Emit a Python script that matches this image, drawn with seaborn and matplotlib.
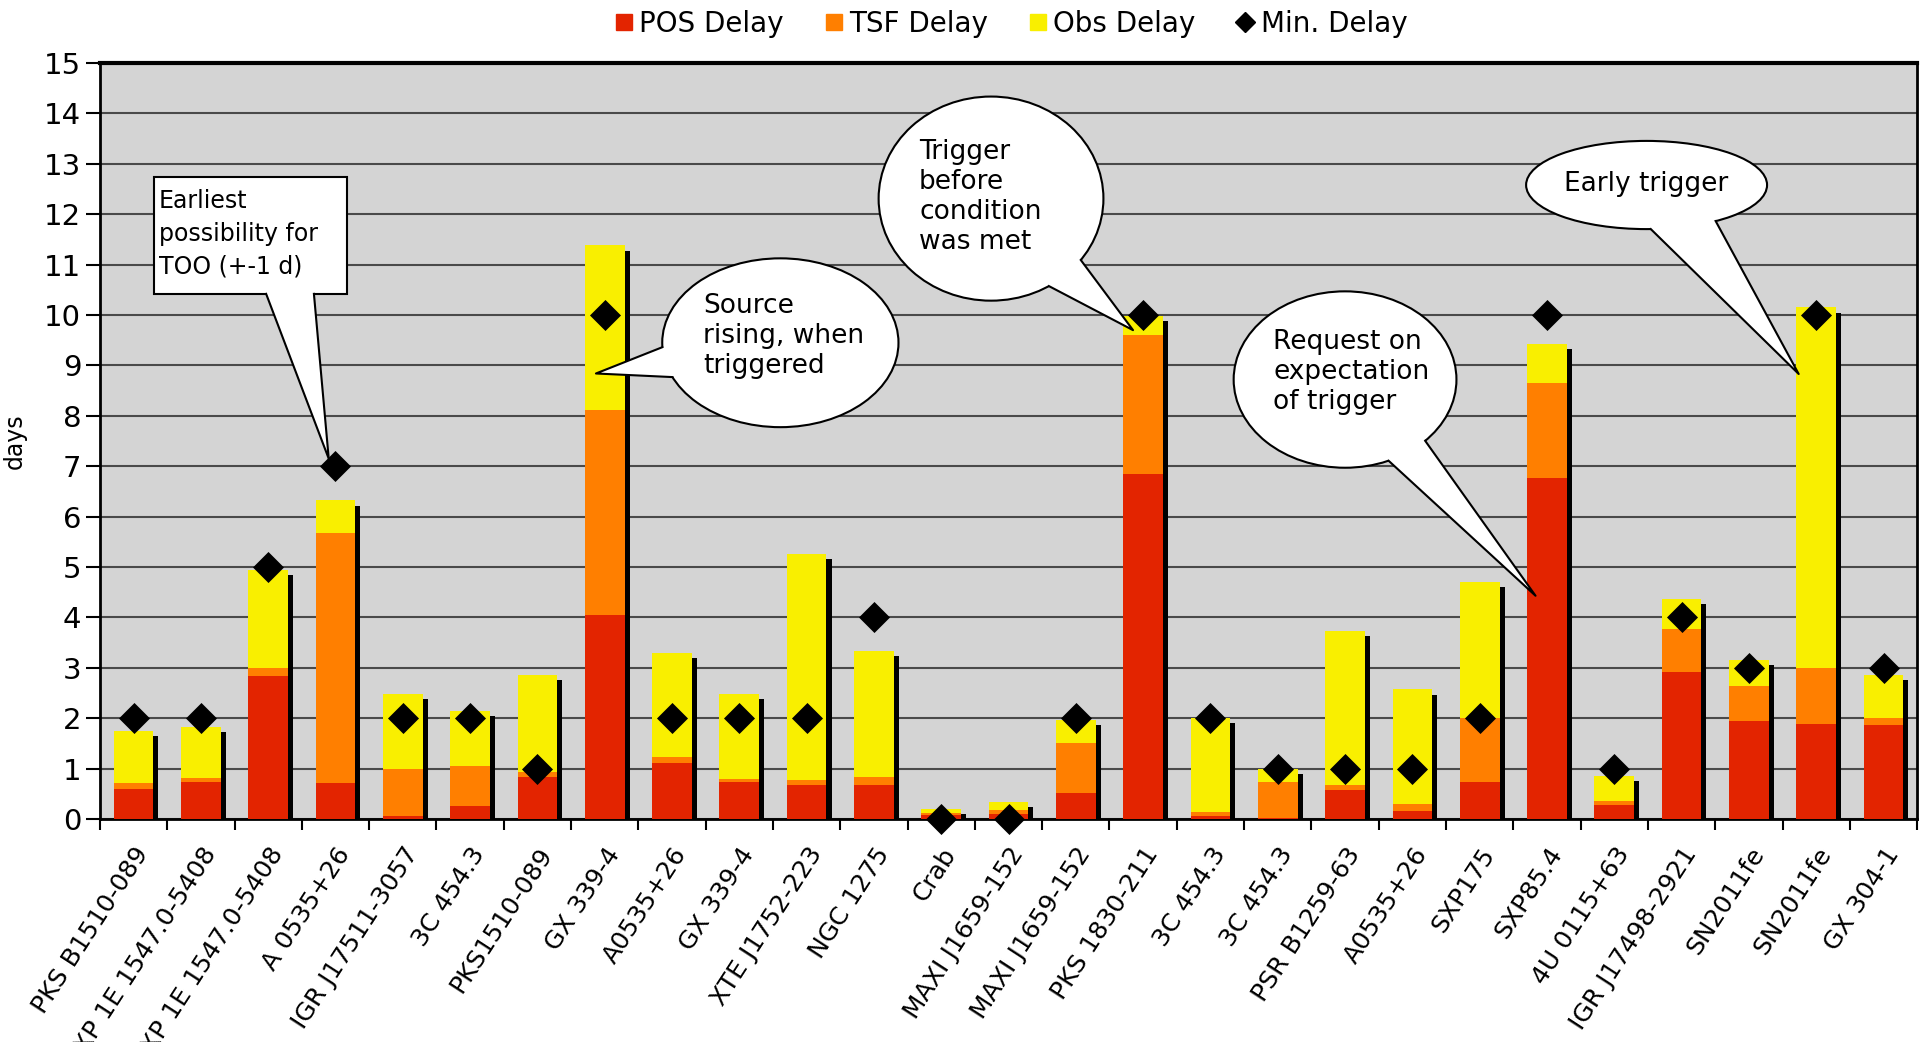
import numpy as np
import pandas as pd
import matplotlib
matplotlib.use("Agg")
import matplotlib.pyplot as plt
import matplotlib.transforms as mtransforms
import seaborn as sns
from matplotlib.patches import Ellipse, Rectangle, Polygon
from matplotlib.lines import Line2D

# source names in the order of the triggers
sources = ["PKS B1510-089", "AXP 1E 1547.0-5408", "AXP 1E 1547.0-5408", "A 0535+26",
           "IGR J17511-3057", "3C 454.3", "PKS1510-089", "GX 339-4", "A0535+26",
           "GX 339-4", "XTE J1752-223", "NGC 1275", "Crab", "MAXI J1659-152",
           "MAXI J1659-152", "PKS 1830-211", "3C 454.3", "3C 454.3", "PSR B1259-63",
           "A0535+26", "SXP175", "SXP85.4", "4U 0115+63", "IGR J17498-2921",
           "SN2011fe", "SN2011fe", "GX 304-1"]

# delays in days
pos_delay = [0.60, 0.74, 2.83, 0.71, 0.06, 0.26, 0.84, 4.04, 1.11, 0.74, 0.67, 0.67, 0.07, 0.09,
             0.51, 6.84, 0.06, 0.02, 0.58, 0.16, 0.73, 6.76, 0.28, 2.92, 1.94, 1.88, 1.86]
tsf_delay = [0.11, 0.07, 0.17, 4.97, 0.94, 0.80, 0.10, 4.08, 0.13, 0.06, 0.10, 0.16, 0.05, 0.08,
             0.99, 2.76, 0.07, 0.71, 0.09, 0.14, 1.28, 1.89, 0.08, 0.86, 0.69, 1.12, 0.15]
obs_delay = [1.03, 1.01, 1.95, 0.64, 1.49, 1.09, 1.92, 3.26, 2.05, 1.69, 4.49, 2.51, 0.07, 0.17,
             0.46, 0.38, 1.88, 0.27, 3.07, 2.27, 2.70, 0.78, 0.50, 0.58, 0.53, 7.15, 0.84]
min_delay = [2, 2, 5, 7, 2, 2, 1, 10, 2, 2, 2, 4, 0, 0, 2, 10, 2, 1, 1, 1, 2, 10, 1, 4, 3, 10, 3]

df = pd.DataFrame({"idx": np.arange(len(sources)), "source": sources,
                   "pos": pos_delay, "tsf": tsf_delay, "obs": obs_delay, "min": min_delay})
df["pos_tsf"] = df["pos"] + df["tsf"]
df["total"] = df["pos_tsf"] + df["obs"]

c_pos = "#e32400"
c_tsf = "#ff7f00"
c_obs = "#f9ef00"
bar_w = 0.59

fig = plt.figure(figsize=(19.21, 10.42), dpi=100)
ax = fig.add_axes([0.052, 0.214, 0.946, 0.7255])
ax.set_facecolor("#d4d4d4")

# black drop shadow on the right of each bar
ax.bar(df["idx"] + 0.075, df["total"] - 0.1, width=bar_w, color="black", zorder=2)

# stacked bars: draw totals first, then overlay the lower parts
sns.barplot(data=df, x="idx", y="total", color=c_obs, width=bar_w, saturation=1,
            linewidth=0, ax=ax, zorder=3)
sns.barplot(data=df, x="idx", y="pos_tsf", color=c_tsf, width=bar_w, saturation=1,
            linewidth=0, ax=ax, zorder=3)
sns.barplot(data=df, x="idx", y="pos", color=c_pos, width=bar_w, saturation=1,
            linewidth=0, ax=ax, zorder=3)

# minimum delay diamonds
sns.scatterplot(data=df, x="idx", y="min", marker="D", s=250, color="black",
                linewidth=0, ax=ax, zorder=5, clip_on=False)

ax.set_xlim(-0.5, len(sources) - 0.5)
ax.set_ylim(0, 15)
ax.set_yticks(range(0, 16))
ax.tick_params(axis="y", labelsize=21, length=10, width=1.5, color="black")
ax.yaxis.grid(True, color="#4a4a4a", linewidth=1.5)
ax.set_axisbelow(True)

ax.set_xticks(df["idx"])
ax.set_xticklabels(sources, rotation=57, ha="right", va="center",
                   rotation_mode="anchor", fontsize=18)
ax.tick_params(axis="x", which="major", length=0, pad=22)
ax.set_xticks(np.arange(-0.5, len(sources)), minor=True)
ax.tick_params(axis="x", which="minor", length=8, width=1.5, color="black")
shift = mtransforms.ScaledTranslation(0.1, 0, fig.dpi_scale_trans)
for lab in ax.get_xticklabels():
    lab.set_transform(lab.get_transform() + shift)

ax.set_xlabel("")
ax.set_ylabel("days", fontsize=17, labelpad=12)

for side in ["left", "bottom", "right"]:
    ax.spines[side].set_color("black")
    ax.spines[side].set_linewidth(2)
ax.spines["top"].set_color("black")
ax.spines["top"].set_linewidth(3)

# legend
handles = [
    Line2D([], [], marker="s", ls="", color=c_pos, markersize=12),
    Line2D([], [], marker="s", ls="", color=c_tsf, markersize=12),
    Line2D([], [], marker="s", ls="", color=c_obs, markersize=12),
    Line2D([], [], marker="D", ls="", color="black", markersize=10),
]
ax.legend(handles, ["POS Delay", "TSF Delay", "Obs Delay", "Min. Delay"],
          loc="lower center", bbox_to_anchor=(0.5, 1.0), ncol=4, frameon=False,
          fontsize=20, handletextpad=0.05, columnspacing=1.3, handlelength=1.0)


# speech balloons
def balloon(cx, cy, w, h, t1, t2, tip, text, tx, ty, ha="left"):
    ax.add_patch(Ellipse((cx, cy), w, h, facecolor="white", edgecolor="black",
                         lw=1.5, zorder=6))
    p1 = (cx + w / 2 * np.cos(np.radians(t1)), cy + h / 2 * np.sin(np.radians(t1)))
    p2 = (cx + w / 2 * np.cos(np.radians(t2)), cy + h / 2 * np.sin(np.radians(t2)))
    ax.add_patch(Polygon([(cx, cy), p1, tip, p2], closed=True, facecolor="white",
                         edgecolor="none", zorder=7))
    ax.plot([p1[0], tip[0], p2[0]], [p1[1], tip[1], p2[1]], color="black",
            lw=1.5, zorder=8)
    ax.text(tx, ty, text, ha=ha, va="center", fontsize=19, linespacing=1.2, zorder=9)


# rectangular callout
rx0, rx1, ry0, ry1 = 0.30, 3.17, 10.42, 12.74
ax.add_patch(Rectangle((rx0, ry0), rx1 - rx0, ry1 - ry0, facecolor="white",
                       edgecolor="black", lw=1.5, zorder=6))
b1, b2, tip1 = (1.97, ry0), (2.68, ry0), (2.90, 7.15)
ax.add_patch(Polygon([(b1[0], ry0 + 0.3), b1, tip1, b2, (b2[0], ry0 + 0.3)], closed=True,
                     facecolor="white", edgecolor="none", zorder=7))
ax.plot([b1[0], tip1[0], b2[0]], [b1[1], tip1[1], b2[1]], color="black", lw=1.5, zorder=8)
ax.text(0.38, 11.61, "Earliest\npossibility for\nTOO (+-1 d)", ha="left", va="center",
        fontsize=17, linespacing=1.45, zorder=9)

balloon(9.61, 9.45, 3.51, 3.35, 183, 204, (6.87, 8.84),
        "Source\nrising, when\ntriggered", 8.46, 9.58)
balloon(12.74, 12.31, 3.34, 4.05, 301, 323, (14.85, 9.70),
        "Trigger\nbefore\ncondition\nwas met", 11.67, 12.35)
balloon(18.0, 8.72, 3.31, 3.50, 293, 316, (20.83, 4.43),
        "Request on\nexpectation\nof trigger", 16.93, 8.87)
balloon(22.48, 12.58, 3.58, 1.75, 272, 305, (24.74, 8.83),
        "Early trigger", 22.48, 12.6, ha="center")

fig.savefig("out.png", dpi=100)
